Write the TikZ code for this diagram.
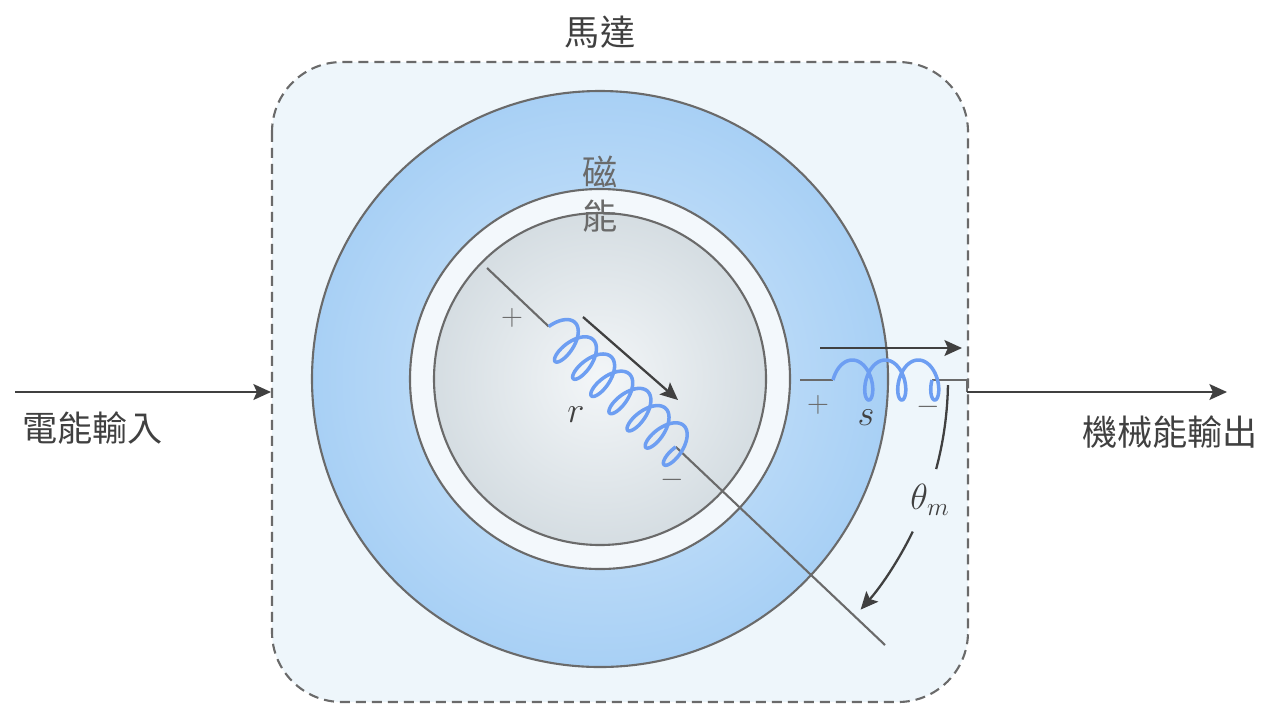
\documentclass[tikz,border=0pt]{standalone}
\usepackage{fontspec}
\newfontfamily\cjk{Noto Sans CJK TC}
\usetikzlibrary{arrows.meta}
\definecolor{edge}{HTML}{6A6A6A}
\definecolor{ink}{HTML}{404040}
\definecolor{coilc}{HTML}{6D9EF2}
\definecolor{boxfill}{HTML}{EEF6FB}
\definecolor{ringin}{HTML}{D3E8FB}
\definecolor{ringout}{HTML}{A8D0F5}
\definecolor{gapc}{HTML}{F3F8FC}
\definecolor{rotorin}{HTML}{F3F6F8}
\definecolor{rotorout}{HTML}{D5DDE2}

\tikzset{
  rim/.style={draw=edge, line width=1.2pt},
  flow/.style={draw=ink, line width=1.3pt, -{Stealth[length=10pt,width=9pt,inset=2pt]}},
  wire/.style={draw=edge, line width=1.2pt},
  winding/.style={draw=coilc, line width=2pt, line join=round, smooth},
  lbl/.style={font=\cjk\fontsize{20}{24}\selectfont, text=ink},
  sgn/.style={font=\fontsize{18}{20}\selectfont, text=edge},
  sym/.style={font=\fontsize{22}{24}\selectfont, text=ink},
}

\begin{document}
\begin{tikzpicture}[x=0.02cm,y=-0.02cm]
  \useasboundingbox (0,0) rectangle (1266,704);
  % motor housing
  \draw[draw=edge, fill=boxfill, line width=1.2pt, dash pattern=on 0.2cm off 0.12cm,
    rounded corners=1.4cm] (272,62) rectangle (968,702);
  \node[lbl] (motor) at (600,32) {馬達};

  % stator ring, air gap, rotor
  \coordinate (O) at (600,379);
  \draw[rim, inner color=ringin, outer color=ringout] (O) circle[radius=288];
  \draw[rim, fill=gapc] (O) circle[radius=190];
  \draw[rim, inner color=rotorin, outer color=rotorout] (O) circle[radius=166];
  \node[lbl, text=edge] (mag) at (600,172) {磁};
  \node[lbl, text=edge] (magb) at (600,216) {能};

  % rotor winding, 7 turns along the rotor axis
  \coordinate (r1) at (487,268);
  \coordinate (r2) at (548.7,326.5);
  \coordinate (r3) at (675.8,446.9);
  \coordinate (r4) at (885,645);
  \draw[wire] (r1) -- (r2) (r3) -- (r4);
  \draw[winding, shift={(r2)}] plot[domain=0:2520, samples=400, variable=\t]
    ({0.726*(\t/360*25+10*(1-cos(\t))) + 0.688*21*sin(\t)},
     {0.688*(\t/360*25+10*(1-cos(\t))) - 0.726*21*sin(\t)});
  \coordinate (ra) at (583,317);
  \coordinate (rb) at (678,400);
  \draw[flow] (ra) -- (rb);
  \node[sgn] (rp) at (512,318) {$+$};
  \node[sgn] (rm) at (672,480) {$-$};
  \node[sym] (rl) at (576,415) {$r$};

  % stator winding, 3 turns
  \coordinate (s1) at (800,380);
  \coordinate (s2) at (833,380);
  \coordinate (s3) at (932,380);
  \coordinate (s4) at (967,380);
  \coordinate (s5) at (967,392);
  \draw[wire] (s1) -- (s2) (s3) -- (s4) -- (s5);
  \draw[winding, shift={(s2)}] plot[domain=0:1080, samples=200, variable=\t]
    ({\t/360*33+11*(1-cos(\t))}, {-20*sin(\t)});
  \coordinate (sa) at (820,348);
  \coordinate (sb) at (962,348);
  \draw[flow] (sa) -- (sb);
  \node[sgn] (sp) at (818,405) {$+$};
  \node[sgn] (sm) at (928,407) {$-$};
  \node[sym] (sl) at (866,418) {$s$};

  % rotor angle
  \draw[draw=ink, line width=1.3pt] (O) ++(1:348) arc[start angle=1, end angle=15, radius=348];
  \draw[flow] (O) ++(26:348) arc[start angle=26, end angle=41.5, radius=348];
  \node[sym] (th) at (930,500) {$\theta_m$};

  % energy in and out
  \coordinate (in) at (15,392);
  \coordinate (inb) at (271,392);
  \coordinate (out) at (1227,392);
  \draw[flow] (in) -- (inb);
  \draw[flow] (s5) -- (out);
  \node[lbl, anchor=west] (elec) at (16,428) {電能輸入};
  \node[lbl, anchor=east] (mech) at (1264,432) {機械能輸出};
\end{tikzpicture}
\end{document}
